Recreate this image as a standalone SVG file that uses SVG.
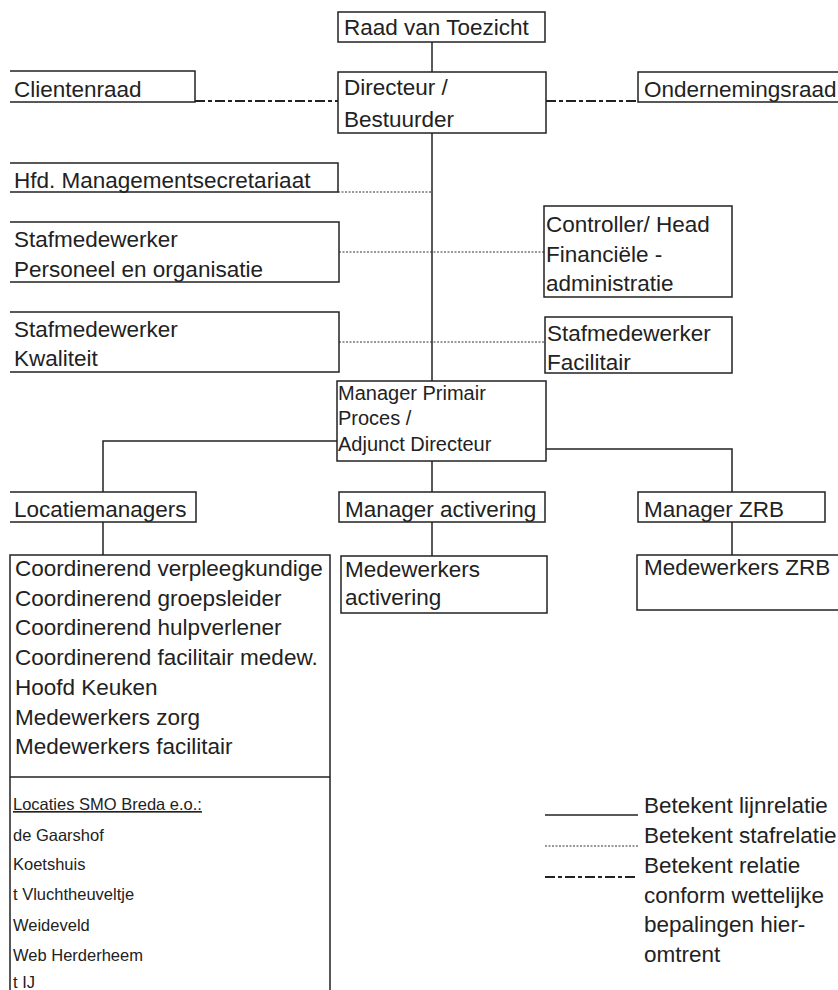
<svg xmlns="http://www.w3.org/2000/svg" width="838" height="990" viewBox="0 0 838 990">
<style>
.b{fill:#fff;stroke:#222;stroke-width:1.5}
.o{fill:none;stroke:#222;stroke-width:1.5}
.t{font-family:"Liberation Sans",Arial,sans-serif;font-size:22.5px;fill:#222}
.s{font-family:"Liberation Sans",Arial,sans-serif;font-size:20px;fill:#222}
.l{font-family:"Liberation Sans",Arial,sans-serif;font-size:16.5px;fill:#222}
.line{fill:none;stroke:#222;stroke-width:1.5}
.staf{fill:none;stroke:#333;stroke-width:1;stroke-dasharray:2,1.5}
.wet{fill:none;stroke:#222;stroke-width:2;stroke-dasharray:10,3,4,3}
</style>
<rect width="838" height="990" fill="#fff"/>
<g id="connectors">
<line class="line" x1="432" y1="42" x2="432" y2="72"/>
<line class="line" x1="432" y1="133" x2="432" y2="381"/>
<line class="wet" x1="195" y1="101" x2="338" y2="101"/>
<line class="wet" x1="546" y1="101" x2="638" y2="101"/>
<line class="staf" x1="338" y1="192" x2="432" y2="192"/>
<line class="staf" x1="339" y1="252" x2="544" y2="252"/>
<line class="staf" x1="339" y1="342" x2="545" y2="342"/>
<polyline class="line" points="337,441 103,441 103,492"/>
<line class="line" x1="103" y1="522" x2="103" y2="555"/>
<polyline class="line" points="546,449 732,449 732,492"/>
<line class="line" x1="732" y1="522" x2="732" y2="555"/>
<line class="line" x1="432" y1="461" x2="432" y2="492"/>
<line class="line" x1="432" y1="522" x2="432" y2="556"/>
</g>
<g id="raad">
<rect class="b" x="338" y="12" width="207" height="30"/>
<text class="t" x="344" y="35">Raad van Toezicht</text>
</g>
<g id="directeur">
<rect class="b" x="338" y="72" width="208" height="61"/>
<text class="t" x="344" y="95">Directeur /</text>
<text class="t" x="344" y="127">Bestuurder</text>
</g>
<g id="clientenraad">
<path class="o" d="M10,71 H195 V102 H10"/>
<text class="t" x="14" y="97">Clientenraad</text>
</g>
<g id="ondernemingsraad">
<path class="o" d="M840,72 H638 V102 H840"/>
<text class="t" x="644" y="97">Ondernemingsraad</text>
</g>
<g id="hfd">
<path class="o" d="M10,163 H338 V192 H10"/>
<text class="t" x="14" y="188">Hfd. Managementsecretariaat</text>
</g>
<g id="po">
<path class="o" d="M10,222 H339 V282 H10"/>
<text class="t" x="14" y="247">Stafmedewerker</text>
<text class="t" x="14" y="277">Personeel en organisatie</text>
</g>
<g id="controller">
<rect class="b" x="544" y="206" width="188" height="91"/>
<text class="t" x="546" y="232">Controller/ Head</text>
<text class="t" x="546" y="262">Financiële -</text>
<text class="t" x="546" y="291">administratie</text>
</g>
<g id="kwaliteit">
<path class="o" d="M10,312 H339 V372 H10"/>
<text class="t" x="14" y="337">Stafmedewerker</text>
<text class="t" x="14" y="366">Kwaliteit</text>
</g>
<g id="facilitair">
<rect class="b" x="545" y="317" width="187" height="56"/>
<text class="t" x="547" y="341">Stafmedewerker</text>
<text class="t" x="547" y="370">Facilitair</text>
</g>
<g id="manager-primair">
<rect class="b" x="337" y="381" width="209" height="80"/>
<text class="s" x="338" y="400">Manager Primair</text>
<text class="s" x="338" y="425">Proces /</text>
<text class="s" x="338" y="451">Adjunct Directeur</text>
</g>
<g id="locatiemanagers">
<path class="o" d="M10,492 H196 V522 H10"/>
<text class="t" x="14" y="517">Locatiemanagers</text>
</g>
<g id="manager-activering">
<rect class="b" x="339" y="492" width="206" height="30"/>
<text class="t" x="345" y="517">Manager activering</text>
</g>
<g id="manager-zrb">
<rect class="b" x="638" y="492" width="187" height="30"/>
<text class="t" x="644" y="517">Manager ZRB</text>
</g>
<g id="coordinerend">
<rect class="b" x="10" y="555" width="320" height="450"/>
<line class="line" x1="10" y1="777" x2="330" y2="777"/>
<text class="t" x="15" y="576">Coordinerend verpleegkundige</text>
<text class="t" x="15" y="606">Coordinerend groepsleider</text>
<text class="t" x="15" y="635">Coordinerend hulpverlener</text>
<text class="t" x="15" y="665">Coordinerend facilitair medew.</text>
<text class="t" x="15" y="695">Hoofd Keuken</text>
<text class="t" x="15" y="725">Medewerkers zorg</text>
<text class="t" x="15" y="754">Medewerkers facilitair</text>
<text class="l" x="13" y="810" text-decoration="underline">Locaties SMO Breda e.o.:</text>
<text class="l" x="13" y="841">de Gaarshof</text>
<text class="l" x="13" y="870">Koetshuis</text>
<text class="l" x="13" y="900">t Vluchtheuveltje</text>
<text class="l" x="13" y="931">Weideveld</text>
<text class="l" x="13" y="961">Web Herderheem</text>
<text class="l" x="13" y="988">t IJ</text>
</g>
<g id="medewerkers-activering">
<rect class="b" x="341" y="556" width="206" height="57"/>
<text class="t" x="345" y="577">Medewerkers</text>
<text class="t" x="345" y="605">activering</text>
</g>
<g id="medewerkers-zrb">
<rect class="b" x="637" y="555" width="210" height="55"/>
<text class="t" x="644" y="575">Medewerkers ZRB</text>
</g>
<g id="legend">
<line class="line" x1="545" y1="815" x2="638" y2="815"/>
<line class="staf" x1="545" y1="846" x2="638" y2="846"/>
<line class="wet" x1="545" y1="877" x2="638" y2="877"/>
<text class="t" x="644" y="813">Betekent lijnrelatie</text>
<text class="t" x="644" y="843">Betekent stafrelatie</text>
<text class="t" x="644" y="873">Betekent relatie</text>
<text class="t" x="644" y="903">conform wettelijke</text>
<text class="t" x="644" y="932">bepalingen hier-</text>
<text class="t" x="644" y="962">omtrent</text>
</g>
</svg>
